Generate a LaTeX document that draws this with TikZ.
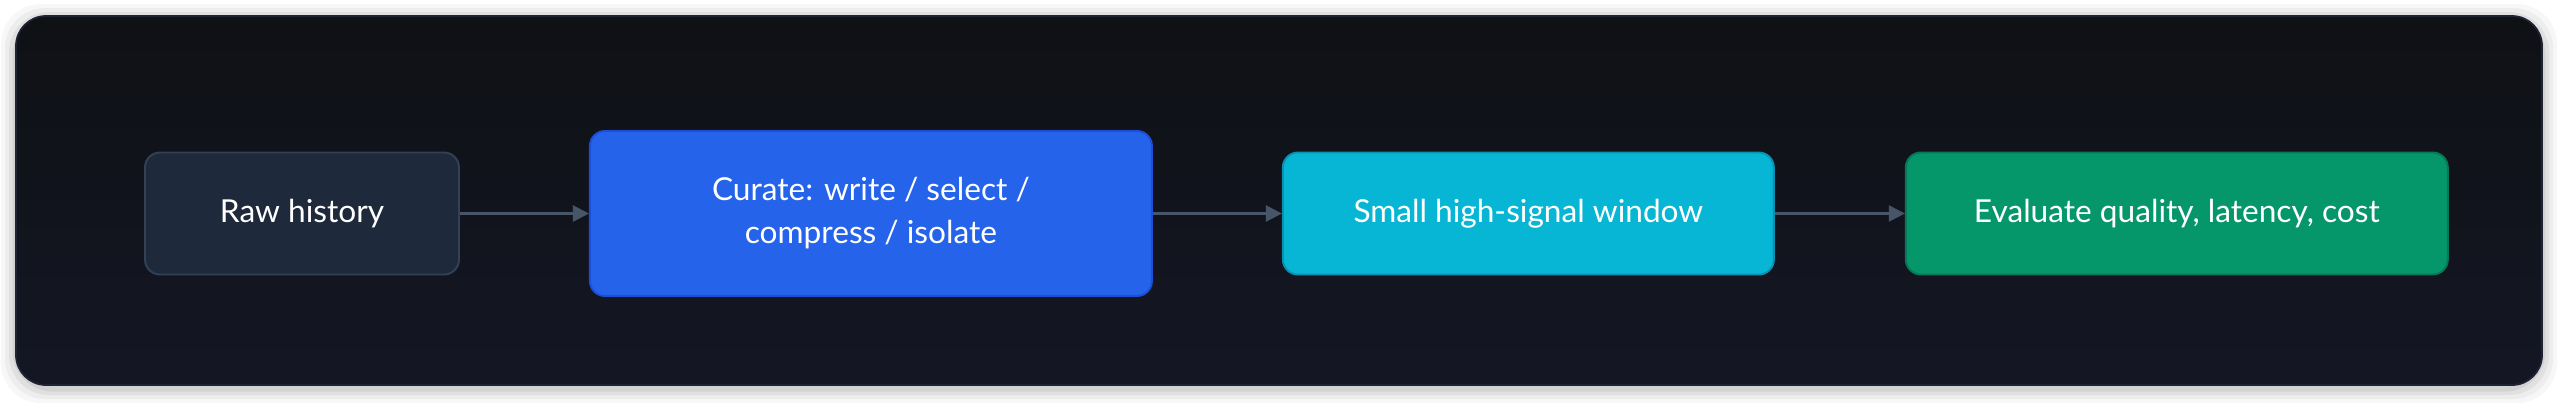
\documentclass[tikz,border=0pt]{standalone}
\usepackage{fontspec}
\setmainfont{Lato}
\usetikzlibrary{positioning,arrows.meta}
\definecolor{pagebg}{HTML}{FFFFFF}
\definecolor{paneltop}{HTML}{0F1115}
\definecolor{panelbot}{HTML}{141624}
\definecolor{panelline}{HTML}{1E2433}
\definecolor{rawfill}{HTML}{1E293B}
\definecolor{rawline}{HTML}{334155}
\definecolor{curfill}{HTML}{2563EB}
\definecolor{curline}{HTML}{1D4ED8}
\definecolor{winfill}{HTML}{06B6D4}
\definecolor{winline}{HTML}{0891B2}
\definecolor{evalfill}{HTML}{059669}
\definecolor{evalline}{HTML}{047857}
\definecolor{flowgray}{HTML}{475569}
\tikzset{stage node/.style={rectangle,rounded corners=0.3cm,draw,line width=1.1pt,text=white,
    font=\fontsize{18pt}{24.5pt}\selectfont,align=center,minimum height=2.44cm,inner sep=0pt},
  flow/.style={draw=flowgray,line width=1.3pt,-{Triangle[length=0.32cm,width=0.32cm,fill=flowgray]}},
}

\begin{document}
\begin{tikzpicture}
		\useasboundingbox[fill=pagebg] (0,0) rectangle (51.2,-8.04);
		% soft shadow round the panel
		\foreach \s/\o in {0.30/0.03,0.22/0.04,0.14/0.05,0.07/0.06}
		  \fill[black,opacity=\o,rounded corners=0.8cm] (0.32-\s,-0.32+\s-0.06) rectangle (50.84+\s,-7.70-\s-0.06);
		\draw[panelline,line width=1pt,top color=paneltop,bottom color=panelbot,rounded corners=0.6cm]
		  (0.32,-0.32) rectangle (50.84,-7.70);
		
		\node[stage node,fill=rawfill,draw=rawline,minimum width=6.28cm] (raw) at (6.04,-4.27) {Raw history};
		\node[stage node,fill=curfill,draw=curline,minimum width=11.24cm,minimum height=3.3cm] (curate) [right = 2.58cm of raw]
		  {Curate: write / select /\\compress / isolate};
		\node[stage node,fill=winfill,draw=winline,minimum width=9.82cm] (window) [right = 2.58cm of curate] {Small high-signal window};
		\node[stage node,fill=evalfill,draw=evalline,minimum width=10.84cm] (evaluate) [right = 2.6cm of window] {Evaluate quality, latency, cost};
		
		\path[flow]
		(raw) edge (curate)
		(curate) edge (window)
		(window) edge (evaluate)
		;
\end{tikzpicture}
\end{document}
